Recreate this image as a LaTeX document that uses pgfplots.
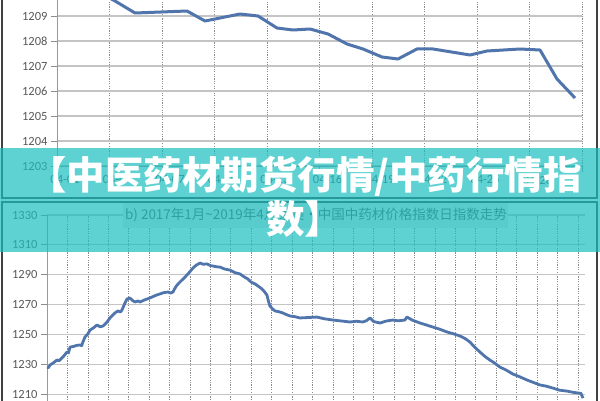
\documentclass[border=0pt]{standalone}
\usepackage{pgfplots}
\pgfplotsset{compat=1.18}
\usepackage{fontspec}
\setmainfont{Carlito}
\newfontfamily\cjk{Noto Sans CJK SC}
\definecolor{linec}{RGB}{80,117,173}
\definecolor{banner}{RGB}{26,191,191}
\definecolor{lbl}{RGB}{89,89,89}
\definecolor{gridc}{RGB}{196,196,196}
\pgfplotsset{
  mystyle/.style={
    scale only axis, anchor=south west,
    axis x line*=bottom, axis y line*=left,
    axis line style={black!40, line width=0.8pt, -},
    grid=major,
    x grid style={black!45, dash pattern=on 1.2pt off 1.2pt, line width=0.6pt},
    y grid style={gridc, line width=1.1pt},
    tick align=outside, major tick length=6pt,
    tick style={black!45, line width=0.8pt},
    /pgf/number format/assume math mode=true,
    /pgf/number format/1000 sep={},
    ticklabel style={font=\fontsize{12.5}{14}\selectfont, text=lbl},
  }
}
\begin{document}
\begin{tikzpicture}[x=1pt,y=1pt]
\begin{scope}
\clip (0,0) rectangle (600,400);
\fill[white] (0,0) rectangle (600,400);
% top chart
\begin{axis}[mystyle, at={(57pt,234pt)}, width=525pt, height=200pt,
  xmin=0, xmax=10, ymin=1203, ymax=1211,
  xtick={0,...,10},
  xticklabels={04-01,04-04,04-07,04-10,04-13,04-16,04-19,04-22,04-25,04-28,},
  xticklabel style={xshift=8pt},
  ytick={1203,...,1209},
  extra y ticks={1210,1211}, extra y tick labels={},
  extra y tick style={grid=major}]
\addplot[linec, line width=3pt, line join=round] coordinates {
(0,1210.9) (1.105,1209.6) (1.486,1209.12) (2.476,1209.2) (2.819,1208.8)
(3.486,1209.08) (3.829,1209.0) (4.190,1208.52) (4.495,1208.44) (4.819,1208.48)
(5.162,1208.28) (5.524,1207.88) (5.829,1207.68) (6.190,1207.36) (6.495,1207.28)
(6.857,1207.68) (7.162,1207.68) (7.867,1207.44) (8.190,1207.6) (8.819,1207.68)
(9.200,1207.64) (9.524,1206.48) (9.867,1205.72)
};
\end{axis}
% bottom chart
\begin{axis}[mystyle, at={(47pt,-23.9pt)}, width=538pt, height=208.9pt,
  xmin=0, xmax=26.35, ymin=1190, ymax=1330,
  xtick={0,...,26}, xticklabels={},
  ytick={1210,1230,...,1330},
  extra y ticks={1190}, extra y tick labels={},
  extra y tick style={grid=major}]
\addplot[linec, line width=2.8pt, line join=round] coordinates {
(0,1228.1) (0.07,1227.6) (0.147,1229.5) (0.3,1230.8) (0.49,1232.8) (0.6,1232.4)
(0.78,1234.8) (0.88,1236.5) (0.98,1238.2) (1.05,1237.6) (1.13,1241.5) (1.3,1241.9)
(1.45,1242.6) (1.62,1242.9) (1.7,1242.4) (1.76,1244.9) (1.86,1248.2) (2.0,1250.3)
(2.11,1252.9) (2.3,1254.6) (2.45,1256.3) (2.6,1255.1) (2.74,1255.6) (2.85,1257.0)
(2.94,1258.3) (3.1,1261.2) (3.23,1263.0) (3.35,1264.6) (3.48,1265.7) (3.6,1265.0)
(3.67,1266.3) (3.8,1270.4) (3.92,1273.7) (4.06,1274.4) (4.2,1272.6) (4.31,1271.7)
(4.45,1272.4) (4.55,1271.7) (4.8,1273.2) (5.04,1274.4) (5.3,1276.0) (5.53,1277.1)
(5.7,1277.9) (5.93,1278.4) (6.05,1277.7) (6.17,1278.4) (6.27,1281.0) (6.37,1283.1)
(6.55,1285.6) (6.76,1288.4) (6.95,1291.2) (7.15,1294.5) (7.3,1296.3) (7.49,1297.8)
(7.65,1297.0) (7.84,1297.2) (8.0,1296.1) (8.13,1295.8) (8.3,1295.3) (8.47,1295.1)
(8.7,1293.8) (8.96,1293.1) (9.2,1291.4) (9.45,1290.5) (9.65,1288.6) (9.84,1287.1)
(10.0,1285.0) (10.19,1283.8) (10.35,1282.3) (10.53,1280.4) (10.65,1278.6) (10.77,1276.4)
(10.85,1272.0) (10.92,1269.0) (11.05,1267.0) (11.17,1265.7) (11.35,1265.2) (11.56,1264.3)
(11.7,1263.4) (11.90,1262.3) (12.1,1262.0) (12.39,1261.0) (12.8,1261.3) (13.22,1261.6)
(13.6,1260.4) (14.01,1259.6) (14.4,1259.0) (14.84,1258.3) (15.15,1258.8) (15.47,1258.3)
(15.65,1259.2) (15.82,1261.0) (16.0,1258.6) (16.31,1257.6) (16.6,1258.9) (16.94,1259.6)
(17.2,1259.1) (17.53,1259.6) (17.63,1261.6) (17.9,1259.5) (18.27,1257.6) (18.6,1256.2)
(18.90,1254.9) (19.25,1253.4) (19.59,1251.6) (19.9,1250.4) (20.23,1248.9) (20.5,1247.0)
(20.71,1244.9) (20.95,1241.4) (21.20,1238.2) (21.45,1235.2) (21.69,1232.8) (21.9,1231.0)
(22.18,1228.1) (22.5,1226.0) (22.82,1223.4) (23.15,1221.6) (23.51,1219.4) (23.8,1217.9)
(24.14,1216.1) (24.45,1215.3) (24.78,1214.0) (25.1,1212.6) (25.46,1212.0) (25.75,1211.2)
(26.00,1210.7) (26.15,1210.5) (26.25,1207.3)
};
\end{axis}
% frames
\draw[black!75, line width=1.2pt] (2,202) rectangle (597,410);
\draw[black!75, line width=1.2pt] (2,-10) rectangle (597,198);
% title box of lower chart
\fill[gray!16] (123,172) rectangle (508,197);
\node[text=lbl, font=\cjk\fontsize{13.5}{15}\selectfont, inner sep=0pt] at (316,185)
  {b) 2017年1月\textasciitilde 2019年4月康美•中国中药材价格指数日指数走势};
% banner
\fill[banner, opacity=0.7] (0,148) rectangle (600,252);
\node[text=white, font=\cjk\bfseries\fontsize{38.5}{44}\selectfont, align=center, inner sep=0pt]
  at (305,203) {【中医药材期货行情/中药行情指\\数】};
\end{scope}
\pgfresetboundingbox
\path[use as bounding box] (0,0) rectangle (600,400);
\end{tikzpicture}
\end{document}
